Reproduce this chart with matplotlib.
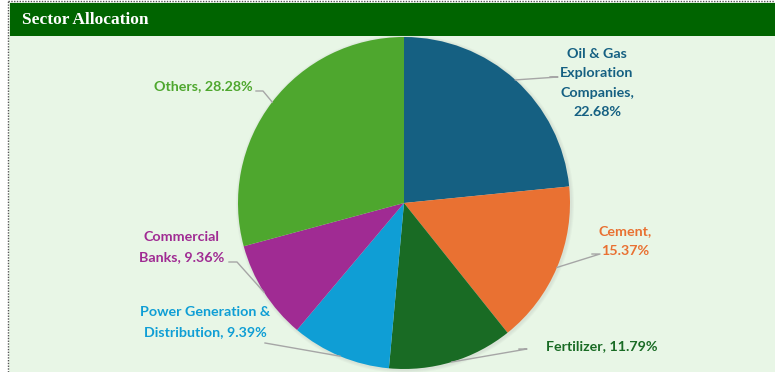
import numpy as np
import matplotlib.pyplot as plt
from matplotlib.patches import Rectangle

sectors = ['Oil & Gas Exploration Companies', 'Cement', 'Fertilizer',
           'Power Generation & Distribution', 'Commercial Banks', 'Others']
weights = [22.68, 15.37, 11.79, 9.39, 9.36, 28.28]
colors = ['#156082', '#E97132', '#196B24', '#0F9ED5', '#A02B93', '#4EA72E']
label_text = ['Oil & Gas\nExploration\nCompanies,\n22.68%', 'Cement,\n15.37%',
              'Fertilizer, 11.79%', 'Power Generation &\nDistribution, 9.39%',
              'Commercial\nBanks, 9.36%', 'Others, 28.28%']

W, H = 775, 372
fig = plt.figure(figsize=(W / 100, H / 100), dpi=100)
fig.patch.set_facecolor('white')
ax = fig.add_axes([0, 0, 1, 1])
ax.set_xlim(0, W)
ax.set_ylim(0, H)
ax.axis('off')

# background panel and header band
ax.add_patch(Rectangle((9, 0), W - 9, H - 2, facecolor='#E8F6E6', edgecolor='none', zorder=0))
ax.add_patch(Rectangle((10, H - 36), W - 10, 33, facecolor='#006400', edgecolor='none', zorder=1))
ax.plot([8, 8], [0, H - 1], color='#555555', lw=1, ls=(0, (1, 1)), zorder=2)
ax.plot([8, W], [H - 1, H - 1], color='#555555', lw=1, ls=(0, (1, 1)), zorder=2)
ax.text(22, H - 20, 'Sector Allocation', color='white', fontsize=12.5, fontweight='bold',
        family='Liberation Serif', va='center', ha='left', zorder=3)

cx, cy, r = 404, H - 203, 166
# soft shadow
for k in range(3):
    ax.add_patch(plt.Circle((cx + 1, cy - 1), r + 1 + k, color='#808080', alpha=0.05, lw=0, zorder=2))

wedges, _ = ax.pie(weights, colors=colors, startangle=90, counterclock=False,
                   center=(cx, cy), radius=r, frame=True,
                   wedgeprops=dict(edgecolor='none', linewidth=0, zorder=3))
ax.set_xlim(0, W)
ax.set_ylim(0, H)
ax.set_aspect('equal')
ax.axis('off')

# label anchors (pixel coords from top) and leader elbow points
label_pos = [(597, 83), (625, 241), (602, 346), (205, 322), (182, 247), (203, 86)]
elbows = [[(550, 77), (558, 77)], [(592, 254), (600, 254)], [(519, 349), (527, 349)],
          [(265, 343), (265, 343)], [(229, 262), (237, 262)], [(256, 91), (263, 91)]]

for w, txt, col, (lx, ly), el in zip(wedges, label_text, colors, label_pos, elbows):
    ang = np.deg2rad((w.theta1 + w.theta2) / 2)
    px, py = cx + r * np.cos(ang), cy + r * np.sin(ang)
    xs = [px] + [e[0] for e in el[::-1]]
    ys = [py] + [H - e[1] for e in el[::-1]]
    ax.plot(xs, ys, color='#A6A6A6', lw=1, zorder=4)
    ax.text(lx, H - ly, txt, color=col, fontsize=10.3, fontweight='bold', family='Lato',
            ha='center', va='center', linespacing=1.75, zorder=5)

fig.savefig('out.png', dpi=100)
